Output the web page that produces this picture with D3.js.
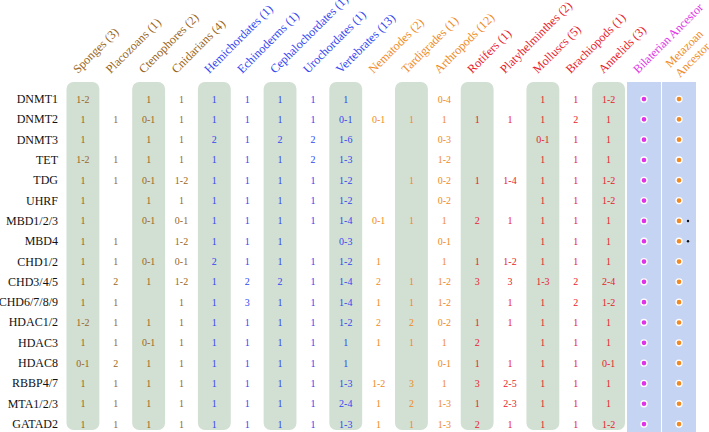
<!DOCTYPE html>
<html>
<head>
<meta charset="utf-8">
<script src="https://cdn.jsdelivr.net/npm/d3@7"></script>
<style>
  body { margin: 0; background: #fff; }
</style>
</head>
<body>
<div id="chart"></div>
<script>
// taxa along the top, with the colour group of each
var taxa = ["Sponges (3)", "Placozoans (1)", "Ctenophores (2)", "Cnidarians (4)",
  "Hemichordates (1)", "Echinoderms (1)", "Cephalochordates (1)", "Urochordates (1)", "Vertebrates (13)",
  "Nematodes (2)", "Tardigrades (1)", "Arthropods (12)",
  "Rotifers (1)", "Platyhelminthes (2)", "Molluscs (5)", "Brachiopods (1)", "Annelids (3)"];
var taxaGroup = ["basal", "basal", "basal", "basal",
  "deut", "deut", "deut", "deut", "deut",
  "ecdy", "ecdy", "ecdy",
  "loph", "loph", "loph", "loph", "loph"];
var ancestors = ["Bilaterian Ancestor", "Metazoan Ancestor"];

var genes = ["DNMT1", "DNMT2", "DNMT3", "TET", "TDG", "UHRF", "MBD1/2/3", "MBD4", "CHD1/2",
  "CHD3/4/5", "CHD6/7/8/9", "HDAC1/2", "HDAC3", "HDAC8", "RBBP4/7", "MTA1/2/3", "GATAD2"];

// copy numbers per gene (one entry per taxon, "" = absent)
var counts = [
  ["1-2", "", "1", "1", "1", "1", "1", "1", "1", "", "", "0-4", "", "", "1", "1", "1-2"],
  ["1", "1", "0-1", "1", "1", "1", "1", "1", "0-1", "0-1", "1", "1", "1", "1", "1", "2", "1"],
  ["1", "", "1", "1", "2", "1", "2", "2", "1-6", "", "", "0-3", "", "", "0-1", "1", "1"],
  ["1-2", "1", "1", "1", "1", "1", "1", "2", "1-3", "", "", "1-2", "", "", "1", "1", "1"],
  ["1", "1", "0-1", "1-2", "1", "1", "1", "1", "1-2", "", "1", "0-2", "1", "1-4", "1", "1", "1-2"],
  ["1", "", "1", "1", "1", "1", "1", "1", "1-2", "", "", "0-2", "", "", "1", "1", "1-2"],
  ["1", "", "0-1", "0-1", "1", "1", "1", "1", "1-4", "0-1", "1", "1", "2", "1", "1", "1", "1"],
  ["1", "1", "", "1-2", "1", "1", "1", "", "0-3", "", "", "0-1", "", "", "1", "1", "1"],
  ["1", "1", "0-1", "0-1", "2", "1", "1", "1", "1-2", "1", "", "1", "1", "1-2", "1", "1", "1"],
  ["1", "2", "1", "1-2", "1", "2", "2", "1", "1-4", "2", "1", "1-2", "3", "3", "1-3", "2", "2-4"],
  ["1", "1", "", "1", "1", "3", "1", "1", "1-4", "1", "1", "1-2", "", "1", "1", "2", "1-2"],
  ["1-2", "1", "1", "1", "1", "1", "1", "1", "1-2", "2", "2", "0-2", "1", "1", "1", "1", "1"],
  ["1", "1", "0-1", "1", "1", "1", "1", "1", "1", "1", "1", "1", "2", "", "1", "1", "1"],
  ["0-1", "2", "1", "1", "1", "1", "1", "1", "1", "", "", "0-1", "1", "1", "1", "1", "0-1"],
  ["1", "1", "1", "1", "1", "1", "1", "1", "1-3", "1-2", "3", "1", "3", "2-5", "1", "1", "1"],
  ["1", "1", "1", "1", "1", "1", "1", "1", "2-4", "1", "2", "1-3", "1", "2-3", "1", "1", "1"],
  ["1", "1", "1", "1", "1", "1", "1", "1", "1-3", "1", "1", "1-3", "2", "1", "1", "1", "1-2"]
];
// genes flagged with a mark beside the metazoan ancestor dot
var flagged = ["MBD1/2/3", "MBD4"];

var groupColor = { basal: "#9a6620", deut: "#3346f2", ecdy: "#f08a24", loph: "#e8222a" };
var ancColor = ["#e032e6", "#f08a24"];

var width = 709, height = 432;
var svg = d3.select("#chart").append("svg")
  .attr("width", width).attr("height", height)
  .attr("font-family", "'Liberation Serif', 'DejaVu Serif', serif");

var x = d3.scaleBand().domain(taxa).range([66.5, 625]).padding(0);
var xa = d3.scaleBand().domain(ancestors).range([627, 696]).paddingInner(0.03);
var y = d3.scaleBand().domain(genes).range([88.9, 434.2]).padding(0);

// shaded columns (every other taxon)
svg.selectAll("rect.shade")
  .data(taxa.filter(function(d, i){ return i % 2 === 0; }))
  .enter().append("rect")
  .attr("class", "shade")
  .attr("x", function(d){ return x(d); })
  .attr("y", 82)
  .attr("width", x.bandwidth())
  .attr("height", 348)
  .attr("rx", 7).attr("ry", 7)
  .attr("fill", "#d2dfd3");

// ancestor columns
svg.selectAll("rect.anc")
  .data(ancestors)
  .enter().append("rect")
  .attr("class", "anc")
  .attr("x", function(d){ return xa(d); })
  .attr("y", 82)
  .attr("width", xa.bandwidth())
  .attr("height", 350)
  .attr("fill", "#c6d4f4");

// header labels
svg.selectAll("text.hdr")
  .data(taxa)
  .enter().append("text")
  .attr("class", "hdr")
  .attr("transform", function(d){
    return "translate(" + (x(d) + x.bandwidth() / 2 - 5) + ",74) rotate(-45)";
  })
  .attr("font-size", 12.2)
  .attr("fill", function(d, i){ return groupColor[taxaGroup[i]]; })
  .text(function(d){ return d; });

svg.append("text")
  .attr("transform", "translate(" + (xa("Bilaterian Ancestor") + xa.bandwidth() / 2 - 6) + ",74) rotate(-45)")
  .attr("font-size", 12)
  .attr("fill", ancColor[0])
  .text("Bilaterian Ancestor");

var meta = svg.append("text")
  .attr("transform", "translate(" + (xa("Metazoan Ancestor") + xa.bandwidth() / 2 - 5) + ",72) rotate(-45)")
  .attr("font-size", 12)
  .attr("fill", ancColor[1]);
meta.append("tspan").attr("x", 0).attr("dy", "-0.45em").text("Metazoan");
meta.append("tspan").attr("x", 0).attr("dy", "1.15em").text("Ancestor");

// row labels
svg.selectAll("text.gene")
  .data(genes)
  .enter().append("text")
  .attr("class", "gene")
  .attr("x", 58)
  .attr("y", function(d){ return y(d) + y.bandwidth() / 2 + 4; })
  .attr("text-anchor", "end")
  .attr("font-size", 12)
  .attr("fill", "#111")
  .text(function(d){ return d; });

// cell values
var cells = [];
genes.forEach(function(g, gi){
  taxa.forEach(function(t, ti){
    if (counts[gi][ti] !== "") cells.push({ gene: g, taxon: t, value: counts[gi][ti], group: taxaGroup[ti] });
  });
});

svg.selectAll("text.val")
  .data(cells)
  .enter().append("text")
  .attr("class", "val")
  .attr("x", function(d){ return x(d.taxon) + x.bandwidth() / 2; })
  .attr("y", function(d){ return y(d.gene) + y.bandwidth() / 2 + 3.5; })
  .attr("text-anchor", "middle")
  .attr("font-size", 10)
  .attr("fill", function(d){ return groupColor[d.group]; })
  .text(function(d){ return d.value; });

// ancestor dots
ancestors.forEach(function(a, ai){
  svg.selectAll("circle.dot" + ai)
    .data(genes)
    .enter().append("circle")
    .attr("class", "dot" + ai)
    .attr("cx", xa(a) + xa.bandwidth() / 2)
    .attr("cy", function(d){ return y(d) + y.bandwidth() / 2; })
    .attr("r", 3)
    .attr("fill", ancColor[ai])
    .attr("stroke", "#fff")
    .attr("stroke-width", 1.3);
});

svg.selectAll("circle.flag")
  .data(flagged)
  .enter().append("circle")
  .attr("class", "flag")
  .attr("cx", xa("Metazoan Ancestor") + xa.bandwidth() / 2 + 9)
  .attr("cy", function(d){ return y(d) + y.bandwidth() / 2; })
  .attr("r", 1.2)
  .attr("fill", "#111");
</script>
</body>
</html>
